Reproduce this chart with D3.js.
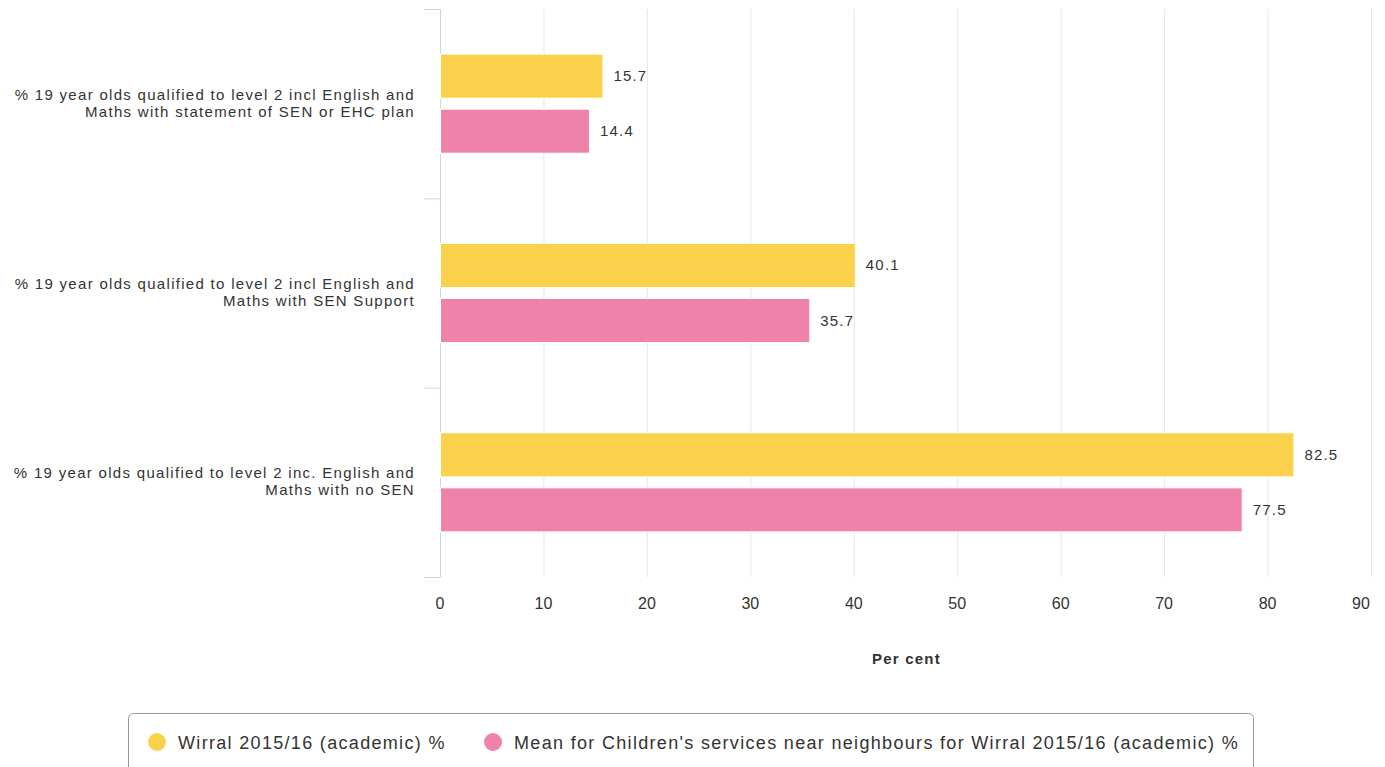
<!DOCTYPE html>
<html><head><meta charset="utf-8">
<script src="https://cdn.jsdelivr.net/npm/d3@7"></script>
<style>body{margin:0;background:#fff;font-family:"Liberation Sans",Arial,sans-serif;}</style>
</head><body><svg id="c" width="1385" height="767"></svg>
<script>
const categories = [
  ["% 19 year olds qualified to level 2 incl English and", "Maths with statement of SEN or EHC plan"],
  ["% 19 year olds qualified to level 2 incl English and", "Maths with SEN Support"],
  ["% 19 year olds qualified to level 2 inc. English and", "Maths with no SEN"]
];
const seriesNames = ["Wirral 2015/16 (academic) %", "Mean for Children's services near neighbours for Wirral 2015/16 (academic) %"];
const wirral = [15.7, 40.1, 82.5];
const neighbours = [14.4, 35.7, 77.5];
const ticks = [0,10,20,30,40,50,60,70,80,90];
const colors = ["#f9d14a", "#ee82ab"];

const svg = d3.select("#c");
const L = 440, R = 1371, T = 9, B = 577;
const x = d3.scaleLinear().domain([0, 90]).range([L, R]);
const y = d3.scaleBand().domain(d3.range(categories.length)).range([T, B]);
const inner = d3.scaleBand().domain([0,1]).range([0, y.bandwidth()]).paddingInner(0.2).paddingOuter(0.82);

// gridlines
svg.append("g").selectAll("line").data(ticks).join("line")
  .attr("x1", d => x(d)+0.5).attr("x2", d => x(d)+0.5).attr("y1", T).attr("y2", B)
  .attr("stroke", "#e6e6e6").attr("stroke-width", 1);

// category axis line and ticks
svg.append("line").attr("x1", L+0.5).attr("x2", L+0.5).attr("y1", T).attr("y2", B)
  .attr("stroke", "#ccd6eb");
const bounds = d3.range(categories.length + 1).map(i => T + i * y.step());
svg.append("g").selectAll("line").data(bounds).join("line")
  .attr("x1", L - 16).attr("x2", L).attr("y1", d => d + 0.5).attr("y2", d => d + 0.5)
  .attr("stroke", "#ccd6eb");

// category labels
const cl = svg.append("g").selectAll("text").data(categories).join("text")
  .attr("text-anchor", "end").attr("font-size", 15).attr("fill", "#333")
  .attr("letter-spacing", 1.3)
  .attr("y", (d, i) => y(i) + y.bandwidth()/2 - 4);
cl.selectAll("tspan").data(d => d).join("tspan")
  .attr("x", 415).attr("dy", (d, j) => j === 0 ? 0 : 17).text(d => d);

// bars
const series = [wirral, neighbours];
series.forEach((vals, s) => {
  const g = svg.append("g");
  g.selectAll("rect").data(vals).join("rect")
    .attr("x", L + 0.5).attr("y", (d, i) => y(i) + inner(s))
    .attr("width", d => x(d) - L).attr("height", inner.bandwidth())
    .attr("fill", colors[s]).attr("stroke", "#fff").attr("stroke-width", 1);
  g.selectAll("text").data(vals).join("text")
    .attr("x", d => x(d) + 11).attr("y", (d, i) => y(i) + inner(s) + inner.bandwidth()/2 + 5)
    .attr("font-size", 15).attr("letter-spacing", 1.2).attr("fill", "#333").text(d => d.toFixed(1));
});

// x tick labels
svg.append("g").selectAll("text").data(ticks).join("text")
  .attr("x", d => d === 90 ? x(d) - 10 : x(d)).attr("y", 609)
  .attr("text-anchor", "middle").attr("font-size", 16).attr("fill", "#333")
  .text(d => d);

// axis title
svg.append("text").attr("x", (L + R) / 2 + 1).attr("y", 664).attr("text-anchor", "middle")
  .attr("font-size", 15).attr("font-weight", "bold").attr("letter-spacing", 1.2).attr("fill", "#333").text("Per cent");

// legend
svg.append("rect").attr("x", 128.5).attr("y", 713.5).attr("width", 1125).attr("height", 70)
  .attr("rx", 5).attr("fill", "none").attr("stroke", "#999");
const lx = [157, 493];
seriesNames.forEach((n, i) => {
  svg.append("circle").attr("cx", lx[i]).attr("cy", 742).attr("r", 9).attr("fill", colors[i]);
  svg.append("text").attr("x", lx[i] + 21).attr("y", 749).attr("font-size", 18)
    .attr("letter-spacing", 1.32).attr("fill", "#333").text(n);
});
</script></body></html>
